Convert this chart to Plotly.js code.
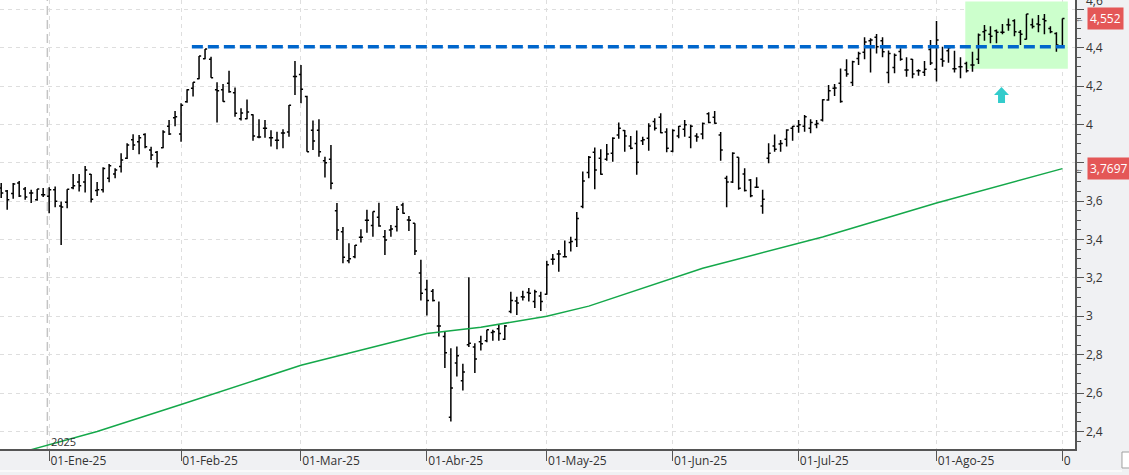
<!DOCTYPE html>
<html><head><meta charset="utf-8">
<script src="https://cdn.plot.ly/plotly-3.0.1.min.js"></script>
<style>html,body{margin:0;padding:0;background:#f0f1f3;overflow:hidden}</style>
</head><body><div id="chart" style="width:1129px;height:475px"></div>
<script>
// trading calendar (Spanish market)
const firstDay = '2024-12-18';
const lastDay = '2025-09-01';
const holidays = ['2024-12-25','2024-12-26','2025-01-01','2025-04-18','2025-04-21','2025-05-01'];

const open = [
3.669,3.653,3.64,3.695,3.664,3.643,3.607,3.633,3.625,3.66,
3.575,3.594,3.67,3.70,3.70,3.74,3.655,3.66,3.72,3.742,
3.78,3.823,3.92,3.91,3.948,3.867,3.855,3.879,3.99,4.035,
3.95,4.118,4.188,4.238,4.342,4.34,4.18,4.18,4.214,4.165,
4.03,4.03,4.05,3.935,3.98,3.93,3.918,3.955,3.96,4.25,
4.26,4.145,3.97,3.97,3.81,3.818,3.55,3.44,3.29,3.31,
3.412,3.50,3.473,3.516,3.415,3.45,3.468,3.58,3.502,3.485,
3.225,3.14,3.13,2.95,2.895,2.474,2.757,2.664,2.852,2.84,
2.867,2.872,2.915,2.935,2.88,3.025,3.08,3.102,3.124,3.077,
3.106,3.115,3.297,3.325,3.31,3.384,3.40,3.572,3.749,3.855,
3.824,3.818,3.85,3.945,3.968,3.888,3.90,3.915,3.928,4.015,
4.037,3.96,3.86,3.94,3.975,3.933,3.94,3.95,4.055,4.037,
3.945,3.72,3.70,3.829,3.742,3.71,3.673,3.575,3.824,3.888,
3.898,3.923,3.98,3.99,3.99,3.98,4.0,4.023,4.127,4.188,
4.215,4.284,4.218,4.344,4.376,4.436,4.454,4.436,4.27,4.297,
4.38,4.284,4.339,4.28,4.272,4.39,4.287,4.339,4.384,4.29,
4.30,4.318,4.31,4.339,4.483,4.47,4.488,4.48,4.52,4.54,
4.48,4.444,4.52,4.523,4.548,4.50,4.474,4.41];
const high = [
3.695,3.658,3.695,3.705,3.674,3.659,3.664,3.669,3.673,3.676,
3.598,3.662,3.742,3.742,3.783,3.742,3.70,3.777,3.794,3.772,
3.85,3.902,3.949,3.945,3.954,3.884,3.862,3.97,4.023,4.07,
4.11,4.183,4.22,4.357,4.393,4.353,4.22,4.21,4.28,4.193,
4.084,4.13,4.053,4.027,4.023,3.97,3.962,3.975,4.101,4.33,
4.31,4.15,4.02,4.027,3.832,3.893,3.59,3.465,3.381,3.372,
3.454,3.555,3.546,3.592,3.45,3.476,3.575,3.592,3.523,3.485,
3.294,3.19,3.142,3.077,2.92,2.834,2.843,2.752,3.204,2.86,
2.898,2.93,2.93,2.955,2.955,3.128,3.102,3.133,3.147,3.138,
3.128,3.29,3.325,3.346,3.395,3.415,3.543,3.754,3.836,3.88,
3.87,3.898,3.933,4.01,3.971,3.94,3.968,3.936,4.006,4.032,
4.058,3.98,3.975,3.992,4.023,3.998,3.954,4.01,4.064,4.07,
3.96,3.732,3.855,3.829,3.772,3.715,3.725,3.659,3.902,3.948,
3.919,3.975,3.992,4.023,4.049,4.027,4.023,4.131,4.206,4.211,
4.292,4.339,4.332,4.379,4.454,4.449,4.471,4.454,4.385,4.37,
4.397,4.35,4.341,4.287,4.33,4.44,4.539,4.405,4.409,4.384,
4.35,4.327,4.379,4.474,4.518,4.512,4.495,4.523,4.552,4.548,
4.492,4.575,4.552,4.57,4.575,4.512,4.48,4.552];
const low = [
3.617,3.555,3.612,3.622,3.607,3.591,3.602,3.622,3.537,3.568,
3.372,3.563,3.662,3.65,3.645,3.593,3.627,3.645,3.699,3.72,
3.749,3.82,3.867,3.844,3.876,3.815,3.775,3.876,3.945,3.99,
3.91,4.113,4.145,4.235,4.34,4.243,4.01,4.118,4.165,4.04,
4.02,4.027,3.915,3.928,3.93,3.885,3.87,3.876,3.936,4.153,
4.11,3.858,3.867,3.832,3.723,3.662,3.398,3.277,3.277,3.303,
3.384,3.436,3.415,3.467,3.32,3.415,3.442,3.534,3.445,3.32,
3.082,3.004,3.077,2.895,2.73,2.452,2.686,2.613,2.84,2.704,
2.822,2.865,2.872,2.872,2.877,3.016,3.007,3.082,3.077,3.043,
3.028,3.112,3.268,3.232,3.308,3.338,3.361,3.563,3.72,3.662,
3.737,3.811,3.806,3.925,3.858,3.87,3.737,3.893,3.863,3.968,
3.954,3.855,3.855,3.928,3.936,3.876,3.91,3.923,4.006,4.003,
3.811,3.568,3.694,3.659,3.65,3.621,3.668,3.534,3.798,3.858,
3.858,3.885,3.915,3.957,3.962,3.954,3.98,4.015,4.123,4.148,
4.113,4.249,4.20,4.31,4.34,4.27,4.37,4.35,4.214,4.266,
4.332,4.249,4.24,4.253,4.252,4.31,4.223,4.30,4.322,4.27,
4.24,4.27,4.275,4.315,4.436,4.423,4.423,4.47,4.488,4.46,
4.414,4.443,4.50,4.48,4.47,4.475,4.379,4.405];
const close = [
3.643,3.607,3.69,3.627,3.622,3.643,3.664,3.633,3.66,3.60,
3.57,3.662,3.68,3.68,3.763,3.61,3.66,3.77,3.784,3.763,
3.815,3.893,3.893,3.93,3.884,3.841,3.80,3.96,3.95,4.04,
4.10,4.18,4.22,4.357,4.393,4.243,4.175,4.12,4.17,4.058,
4.06,4.065,3.94,3.935,3.98,3.93,3.918,3.955,4.10,4.25,
4.183,3.858,3.913,3.858,3.80,3.693,3.45,3.308,3.30,3.37,
3.412,3.50,3.546,3.47,3.398,3.455,3.558,3.537,3.50,3.34,
3.12,3.082,3.082,2.95,2.81,2.626,2.794,2.71,2.86,2.777,
2.857,2.93,2.92,2.91,2.95,3.082,3.069,3.10,3.12,3.128,
3.077,3.268,3.297,3.325,3.31,3.39,3.51,3.705,3.829,3.763,
3.74,3.846,3.928,3.98,3.94,3.876,3.803,3.92,3.992,3.98,
3.957,3.876,3.968,3.99,3.998,3.99,3.935,4.005,4.01,4.006,
3.867,3.70,3.85,3.667,3.655,3.628,3.673,3.61,3.85,3.87,
3.90,3.971,3.99,3.998,4.04,4.01,4.005,4.128,4.175,4.19,
4.12,4.263,4.327,4.37,4.43,4.44,4.405,4.379,4.37,4.36,
4.339,4.284,4.263,4.28,4.287,4.32,4.44,4.33,4.40,4.29,
4.30,4.28,4.31,4.466,4.49,4.46,4.48,4.48,4.518,4.483,
4.47,4.575,4.51,4.52,4.54,4.483,4.414,4.552];

// moving average (green line)
const smaDates = ['2024-12-18','2024-12-27','2025-01-14','2025-02-03','2025-03-03','2025-04-01','2025-04-14','2025-05-02','2025-05-13','2025-06-09','2025-07-07','2025-08-01','2025-09-01'];
const smaValues = [2.27,2.305,2.40,2.54,2.745,2.91,2.943,3.0,3.053,3.25,3.413,3.59,3.7697];

const resistanceLevel = 4.405;
const lastClose = 4.552;
const lastSma = 3.7697;
const zoneTop = 4.64, zoneBottom = 4.29;

const monthTickDates = ['2025-01-02','2025-02-03','2025-03-03','2025-04-01','2025-05-02','2025-06-02','2025-07-01','2025-08-01','2025-09-01'];
const monthTickLabels = ['01-Ene-25','01-Feb-25','01-Mar-25','01-Abr-25','01-May-25','01-Jun-25','01-Jul-25','01-Ago-25','0'];
const priceTickVals = [2.4,2.6,2.8,3,3.2,3.4,3.6,3.8,4,4.2,4.4,4.6];
const priceTickText = ['2,4','2,6','2,8','3','3,2','3,4','3,6','','4','4,2','4,4',''];
const topTickText = '4,6';

function tradingDays(a, b, hol) {
  const out = [];
  const d = new Date(a + 'T00:00:00Z');
  const end = new Date(b + 'T00:00:00Z');
  while (d <= end) {
    const s = d.toISOString().slice(0, 10);
    const wd = d.getUTCDay();
    if (wd !== 0 && wd !== 6 && hol.indexOf(s) < 0) out.push(s);
    d.setUTCDate(d.getUTCDate() + 1);
  }
  return out;
}
const dates = tradingDays(firstDay, lastDay, holidays);
const idx = s => dates.indexOf(s);

const font = 'Open Sans, Noto Sans, sans-serif';
const traces = [
  {type: 'scatter', mode: 'lines', x: smaDates, y: smaValues,
   line: {color: '#14a84a', width: 1.5}, hoverinfo: 'skip'},
  {type: 'ohlc', x: dates, open: open, high: high, low: low, close: close,
   increasing: {line: {color: '#000', width: 1.5}},
   decreasing: {line: {color: '#000', width: 1.5}},
   tickwidth: 0.35, hoverinfo: 'skip'}
];

const janPos = idx('2025-01-02') - 0.3;
const layout = {
  width: 1129, height: 475,
  margin: {l: 0, r: 54, t: 0, b: 26, pad: 0},
  paper_bgcolor: '#f0f1f3', plot_bgcolor: '#ffffff',
  separators: ',.',
  showlegend: false,
  font: {family: font, size: 12, color: '#333'},
  xaxis: {
    type: 'category', categoryorder: 'array', categoryarray: dates,
    range: [-0.2, 179.1], rangeslider: {visible: false},
    tickmode: 'array', tickvals: monthTickDates, ticktext: monthTickLabels,
    ticks: 'outside', ticklen: 10, tickcolor: '#555', tickwidth: 1,
    ticklabelposition: 'outside right',
    showgrid: true, gridcolor: '#dedede', griddash: '4px,4px', gridwidth: 1,
    showline: true, linecolor: '#555', linewidth: 1.5, zeroline: false,
    tickfont: {family: font, size: 12, color: '#333'}, fixedrange: true
  },
  yaxis: {
    side: 'right', range: [2.3083, 4.6484],
    tickmode: 'array', tickvals: priceTickVals, ticktext: priceTickText,
    ticks: 'outside', ticklen: 7, tickcolor: '#555', tickwidth: 1,
    showline: true, linecolor: '#555', linewidth: 1.5, zeroline: false,
    showgrid: true, gridcolor: '#dedede', griddash: '4px,4px', gridwidth: 1,
    minor: {tickmode: 'linear', tick0: 2.4, dtick: 0.05, ticks: 'outside', ticklen: 4, tickcolor: '#555', showgrid: false},
    tickfont: {family: font, size: 12, color: '#333'}, fixedrange: true
  },
  shapes: [
    {type: 'rect', layer: 'between', xref: 'x', yref: 'y',
     x0: 160.8, x1: 177.9, y0: zoneBottom, y1: zoneTop,
     fillcolor: '#ccffcc', line: {width: 0}},
    {type: 'line', layer: 'between', xref: 'x', yref: 'paper',
     x0: janPos, x1: janPos, y0: 0, y1: 1,
     line: {color: '#c4c4c4', width: 1.5, dash: '9px,5px'}},
    {type: 'line', xref: 'x', yref: 'y',
     x0: 31.8, x1: 177.4, y0: resistanceLevel, y1: resistanceLevel,
     line: {color: '#0066cc', width: 3.5, dash: '11px,5px'}},
    {type: 'path', xref: 'paper', yref: 'paper',
     path: 'M0.9316,0.8062 L0.9386,0.7884 L0.9349,0.7884 L0.9349,0.7706 L0.9284,0.7706 L0.9284,0.7884 L0.9247,0.7884 Z',
     fillcolor: '#33cccc', line: {width: 0}},
    {type: 'rect', xref: 'paper', yref: 'paper',
     x0: 1.0437, x1: 1.07, y0: -0.0067, y1: -0.0423,
     fillcolor: '#ffffff', line: {color: '#a0a0a0', width: 1}},
    {type: 'line', xref: 'paper', yref: 'paper',
     x0: 0, x1: 1.0437, y0: -0.0490, y1: -0.0490,
     line: {color: '#fafafa', width: 2}}
  ],
  annotations: [
    {xref: 'x', yref: 'paper', x: janPos + 0.2, y: 0.0178, xanchor: 'left', yanchor: 'middle',
     text: '2025', showarrow: false, font: {family: font, size: 11, color: '#333'}},
    {xref: 'paper', yref: 'paper', x: 1.0093, y: 0.9777, xanchor: 'left', yanchor: 'bottom',
     text: topTickText, showarrow: false, borderpad: 0,
     font: {family: font, size: 12, color: '#333'}},
    {xref: 'paper', yref: 'y', x: 1.0112, y: lastClose, xanchor: 'left', yanchor: 'middle',
     text: '4,552', showarrow: false, bgcolor: '#e45757', borderpad: 2,
     font: {family: font, size: 12, color: '#ffffff'}},
    {xref: 'paper', yref: 'y', x: 1.0112, y: lastSma, xanchor: 'left', yanchor: 'middle',
     text: '3,7697', showarrow: false, bgcolor: '#e45757', borderpad: 2,
     font: {family: font, size: 12, color: '#ffffff'}},
    {xref: 'paper', yref: 'y', x: 1.0093, y: lastClose, xanchor: 'right', yanchor: 'middle',
     text: '←', showarrow: false, borderpad: 0, font: {family: font, size: 9, color: '#555'}},
    {xref: 'paper', yref: 'y', x: 1.0093, y: lastSma, xanchor: 'right', yanchor: 'middle',
     text: '←', showarrow: false, borderpad: 0, font: {family: font, size: 9, color: '#555'}}
  ]
};
Plotly.newPlot('chart', traces, layout, {displayModeBar: false, staticPlot: true});
</script></body></html>
